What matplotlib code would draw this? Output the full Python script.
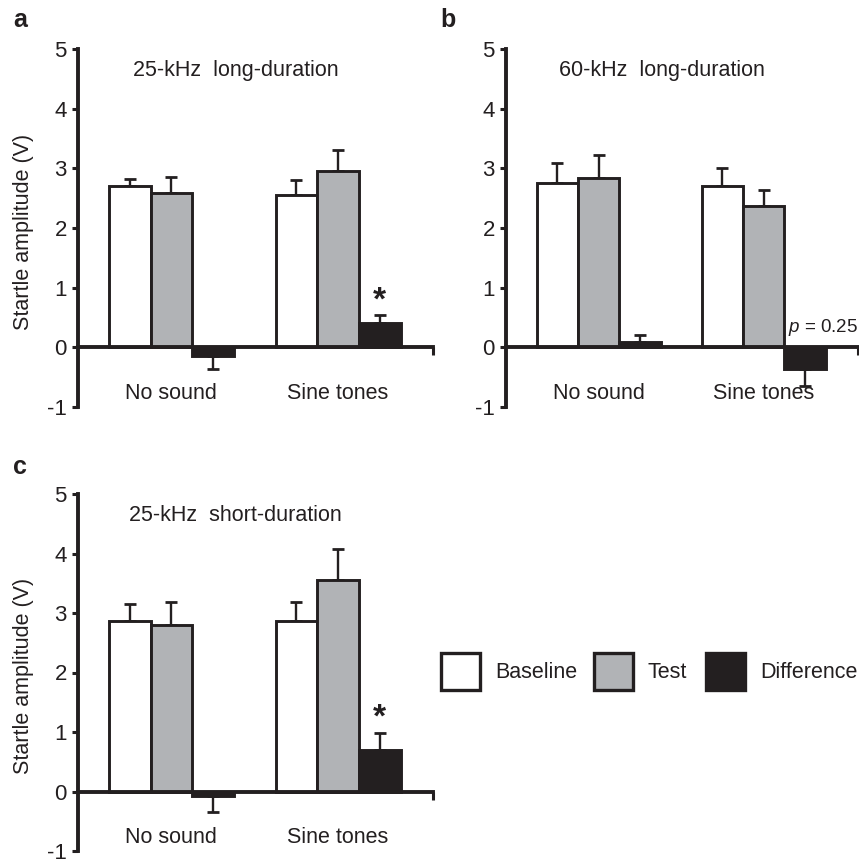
import matplotlib
matplotlib.use('Agg')
import matplotlib.pyplot as plt
from matplotlib.patches import Rectangle

plt.rcParams['font.family'] = ['Liberation Sans', 'DejaVu Sans']
plt.rcParams['mathtext.fontset'] = 'custom'
plt.rcParams['mathtext.rm'] = 'Liberation Sans'
plt.rcParams['mathtext.it'] = 'Liberation Sans:italic'
plt.rcParams['axes.unicode_minus'] = False

INK = '#231f20'
GREY = '#b1b3b6'

groups = ['No sound', 'Sine tones']
series = ['Baseline', 'Test', 'Difference']
fills = ['white', GREY, INK]

# panel a: 25-kHz long-duration
a_baseline = [2.70, 2.56]
a_test = [2.58, 2.96]
a_diff = [-0.15, 0.40]
a_baseline_sem = [0.12, 0.24]
a_test_sem = [0.27, 0.35]
a_diff_sem = [0.21, 0.14]

# panel b: 60-kHz long-duration
b_baseline = [2.76, 2.71]
b_test = [2.84, 2.37]
b_diff = [0.09, -0.37]
b_baseline_sem = [0.33, 0.29]
b_test_sem = [0.38, 0.26]
b_diff_sem = [0.11, 0.28]

# panel c: 25-kHz short-duration
c_baseline = [2.87, 2.87]
c_test = [2.79, 3.55]
c_diff = [-0.08, 0.70]
c_baseline_sem = [0.28, 0.31]
c_test_sem = [0.39, 0.52]
c_diff_sem = [0.27, 0.29]

W = 0.25
XLIM = (-0.56, 1.57)
FS = 15.5


def draw_panel(ax, means, sems, title, ylabel=True, star=False, note=None):
    for k, (vals, errs) in enumerate(zip(means, sems)):
        for g in range(len(groups)):
            x = g + (k - 1) * W
            v = vals[g]
            ax.bar(x, v, width=W, color=fills[k], edgecolor=INK, linewidth=2.1, zorder=2)
            lo, hi = (errs[g], 0) if v < 0 else (0, errs[g])
            ax.errorbar(x, v, yerr=[[lo], [hi]], fmt='none', ecolor=INK,
                        elinewidth=1.7, capsize=4, capthick=2, zorder=1)
    if star:
        ax.text(1 + W, means[2][1] + sems[2][1] + 0.1, '*', ha='center', va='baseline',
                fontsize=24, fontweight='bold', color=INK)
    if note:
        ax.text(XLIM[1], 0.26, note, ha='right', va='baseline', fontsize=13.5, color=INK)

    ax.set_xlim(*XLIM)
    ax.set_ylim(-1, 5)
    for s in ['top', 'right']:
        ax.spines[s].set_visible(False)
    for s in ['left', 'bottom']:
        ax.spines[s].set_linewidth(2.8)
        ax.spines[s].set_color(INK)
    ax.spines['left'].set_bounds(-1, 5)
    ax.spines['bottom'].set_position(('data', 0))
    ax.set_yticks(range(-1, 6))
    ax.tick_params(axis='y', direction='out', length=4, width=2.2, color=INK,
                   labelsize=16, labelcolor=INK, pad=4)
    ax.set_xticks([XLIM[1]])
    ax.set_xticklabels([''])
    ax.tick_params(axis='x', direction='out', length=6, width=2.2, color=INK)
    for g, name in enumerate(groups):
        ax.text(g, -0.77, name, ha='center', va='center', fontsize=FS, color=INK)
    ax.text(0.444, 0.941, title, transform=ax.transAxes, ha='center', va='center',
            fontsize=FS, color=INK)
    if ylabel:
        ax.set_ylabel('Startle amplitude (V)', fontsize=FS, color=INK)
        ax.yaxis.set_label_coords(-0.125, 0.49)


fig = plt.figure(figsize=(8.59, 8.60), dpi=100)
ax_a = fig.add_axes([78 / 859, 1 - 407 / 860, 355 / 859, 358 / 860])
ax_b = fig.add_axes([506 / 859, 1 - 407 / 860, 352 / 859, 358 / 860])
ax_c = fig.add_axes([78 / 859, 1 - 851 / 860, 355 / 859, 357 / 860])

draw_panel(ax_a, [a_baseline, a_test, a_diff], [a_baseline_sem, a_test_sem, a_diff_sem],
           '25-kHz  long-duration', star=True)
draw_panel(ax_b, [b_baseline, b_test, b_diff], [b_baseline_sem, b_test_sem, b_diff_sem],
           '60-kHz  long-duration', ylabel=False, note='$p$ = 0.25')
draw_panel(ax_c, [c_baseline, c_test, c_diff], [c_baseline_sem, c_test_sem, c_diff_sem],
           '25-kHz  short-duration', star=True)

for letter, (x, y) in zip('abc', [(13, 20), (440, 20), (13, 467)]):
    fig.text(x / 859, 1 - y / 860, letter, ha='left', va='center', fontsize=18,
             fontweight='bold', color=INK)

# legend drawn by hand
box_x = [441, 594, 706]
text_x = [495, 648, 760]
for k, name in enumerate(series):
    fig.add_artist(Rectangle((box_x[k] / 859, 1 - 690 / 860), 39 / 859, 37 / 860,
                             transform=fig.transFigure, facecolor=fills[k],
                             edgecolor=INK, linewidth=2.4))
    fig.text(text_x[k] / 859, 1 - 672 / 860, name, ha='left', va='center',
             fontsize=FS, color=INK)

fig.savefig('out.png', dpi=100)
